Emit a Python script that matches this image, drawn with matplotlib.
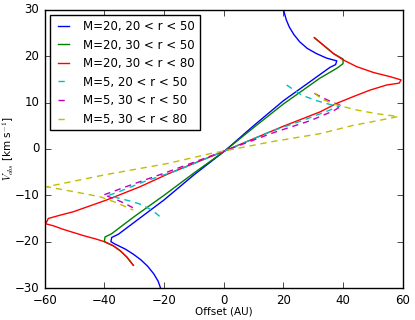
import matplotlib
matplotlib.use('Agg')
import matplotlib.pyplot as plt

plt.style.use('classic')
plt.rcParams['font.family'] = ['DejaVu Sans']
plt.rcParams['font.size'] = 8.5

# paths: outer (upper) branch -> tip -> centre -> lower tip -> outer (lower) branch
blue_x = [19.9, 20.3, 21.0, 22.0, 23.5, 25.5, 28.0, 31.0, 34.5, 37.9, 37.5, 35.6, 28.9, 20.0, 10.0, 0.4,
          -10.0, -20.0, -28.9, -35.3, -37.55, -37.8, -36.5, -33.0, -30.3, -27.8, -25.5, -23.5, -22.0, -20.9]
blue_v = [30.5, 29.4, 27.8, 26.3, 24.7, 23.1, 21.7, 20.6, 19.6, 19.0, 18.2, 17.6, 14.5, 10.4, 5.0, -0.4,
          -5.6, -11.0, -15.3, -18.4, -19.1, -20.0, -20.5, -21.6, -22.7, -23.9, -25.3, -26.9, -28.5, -30.5]

green_x = [30.4, 33.4, 36.75, 40.0, 40.0, 37.9, 32.3, 20.0, 10.0, 0.4,
           -10.0, -20.0, -30.0, -37.6, -39.8, -40.0, -37.0, -34.8, -32.5, -30.3]
green_v = [24.0, 22.4, 20.6, 19.4, 18.4, 17.4, 15.3, 9.7, 4.6, -0.4,
           -5.2, -10.0, -14.6, -18.3, -19.0, -20.0, -20.9, -21.9, -23.3, -25.1]

red_x = [30.4, 33.4, 36.75, 40.1, 44.6, 50.2, 55.75, 59.45, 58.8, 54.6, 49.05, 43.45, 37.9, 32.3, 20.0, 10.0, 0.4,
         -18.55, -28.05, -39.2, -50.4, -54.9, -58.8, -59.3, -59.9, -57.0, -54.0, -50.0, -47.0, -43.0, -40.0,
         -37.0, -34.8, -32.5, -30.3]
red_v = [24.0, 22.4, 20.6, 19.2, 17.75, 16.5, 15.6, 14.9, 14.2, 13.8, 12.7, 11.3, 9.85, 8.0, 4.9, 2.2, -0.4,
         -5.35, -8.15, -11.0, -13.55, -14.3, -15.0, -15.7, -16.1, -16.6, -17.3, -18.1, -18.7, -19.4, -20.0,
         -20.9, -21.9, -23.3, -25.1]

cyan_x = [21.1, 26.15, 31.2, 36.2, 39.0, 35.6, 26.7, 15.5, 0.4,
          -15.0, -26.5, -35.0, -38.5, -35.9, -31.0, -28.05, -24.0, -21.35, -20.8]
cyan_v = [13.8, 11.6, 10.4, 9.5, 9.3, 8.4, 6.2, 3.7, -0.4,
          -4.5, -7.0, -9.2, -10.0, -10.5, -11.3, -11.9, -13.2, -14.6, -15.0]

magenta_x = [30.4, 33.0, 36.0, 39.6, 36.75, 29.0, 16.6, 0.4,
             -18.55, -30.0, -40.35, -39.3, -35.7, -32.7, -30.1]
magenta_v = [12.0, 11.1, 10.2, 9.3, 8.2, 6.1, 3.5, -0.4,
             -4.9, -7.5, -9.95, -10.1, -11.0, -11.9, -12.8]

yellow_x = [30.5, 33.0, 37.9, 44.6, 51.3, 58.5, 52.4, 43.45, 32.3, 15.5, 0.4,
            -4.5, -18.55, -40.0, -59.3, -50.4, -41.5, -35.9, -30.3]
yellow_v = [12.0, 10.7, 9.5, 8.4, 7.6, 7.0, 6.2, 5.1, 3.3, 1.5, -0.4,
            -1.0, -3.1, -5.6, -8.15, -9.2, -10.3, -11.6, -13.2]

fig = plt.figure(figsize=(4.15, 3.2), dpi=100)
ax = fig.add_axes([0.1077, 0.1, 0.8627, 0.869])

dash = (4.5, 3.5)
ax.plot(blue_x, blue_v, '-', color='b', lw=1.0, label='M=20, 20 < r < 50')
ax.plot(green_x, green_v, '-', color='g', lw=1.0, label='M=20, 30 < r < 50')
ax.plot(red_x, red_v, '-', color='r', lw=1.0, label='M=20, 30 < r < 80')
ax.plot(cyan_x, cyan_v, '--', color='c', lw=1.0, dashes=dash, label='M=5, 20 < r < 50')
ax.plot(magenta_x, magenta_v, '--', color='m', lw=1.0, dashes=dash, label='M=5, 30 < r < 50')
ax.plot(yellow_x, yellow_v, '--', color='y', lw=1.0, dashes=dash, label='M=5, 30 < r < 80')

ax.set_xlim(-60, 60)
ax.set_ylim(-30, 30)
ax.set_xticks([-60, -40, -20, 0, 20, 40, 60])
ax.set_yticks([-30, -20, -10, 0, 10, 20, 30])
ax.tick_params(labelsize=8.5)
ax.set_xlabel('Offset (AU)', fontsize=7.5, labelpad=0)
ax.set_ylabel(r'$V_{obs}$ [km s$^{-1}$]', fontsize=7.5, labelpad=-1)

ax.legend(loc='upper left', fontsize=8.5, borderaxespad=0.45, handlelength=1.5,
          handletextpad=0.9, labelspacing=0.47, fancybox=False)

fig.savefig('out.png', dpi=100, facecolor='white')
